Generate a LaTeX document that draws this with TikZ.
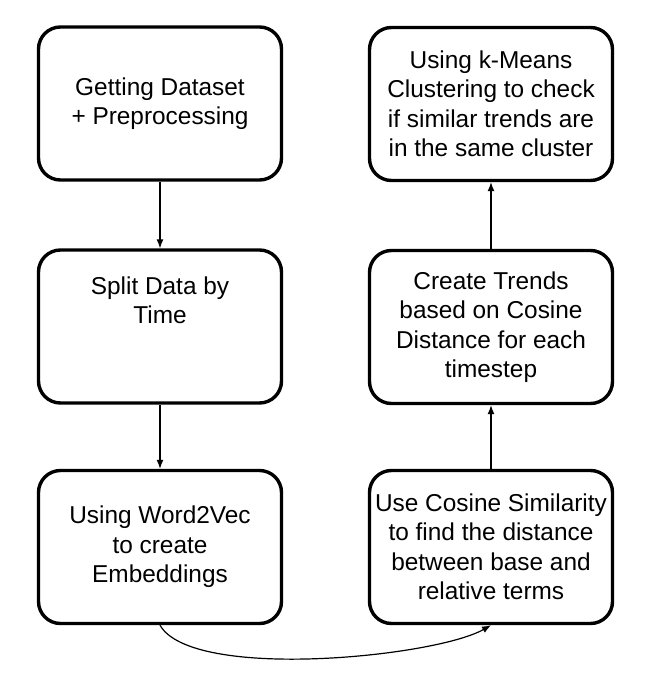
\documentclass[tikz,border=0pt]{standalone}
\usepackage{fontspec}
\setmainfont{Liberation Sans}
\usetikzlibrary{arrows.meta}

\begin{document}
\begin{tikzpicture}[x=0.5pt,y=-0.5pt,
    stage/.style={draw, line width=1.7pt, rounded corners=11pt,
      minimum width=121.5pt, minimum height=76.5pt, inner sep=0pt,
      align=center, font=\fontsize{12.2}{14.75}\selectfont},
    flow/.style={line width=0.6pt, -{Latex[length=4.5pt,width=3.5pt]}}]
        \useasboundingbox (0,0) rectangle (644,690);
        % left column
        \node[stage] (data) at (160,103.5) {Getting Dataset\\+ Preprocessing};
        \node[stage] (split) at (160,326.5) {};
        \node[align=center, anchor=north, inner sep=0pt,
          font=\fontsize{12.2}{14.75}\selectfont] (splittext) at (160,276) {Split Data by\\Time};
        \node[stage] (emb) at (160,547) {Using Word2Vec\\to create\\Embeddings};
        % right column
        \node[stage] (cossim) at (491,547) {Use Cosine Similarity\\to find the distance\\between base and\\relative terms};
        \node[stage] (trend) at (491,327) {Create Trends\\based on Cosine\\Distance for each\\timestep};
        \node[stage] (kmeans) at (491,104) {Using k-Means\\Clustering to check\\if similar trends are\\in the same cluster};
        \draw[flow] (data.south) -- (split.north);
        \draw[flow] (split.south) -- (emb.north);
        \draw[flow] (emb.south) .. controls +(32,56) and +(-56,32) .. (cossim.south);
        \draw[flow] (cossim.north) -- (trend.south);
        \draw[flow] (trend.north) -- (kmeans.south);
      \end{tikzpicture}
\end{document}
